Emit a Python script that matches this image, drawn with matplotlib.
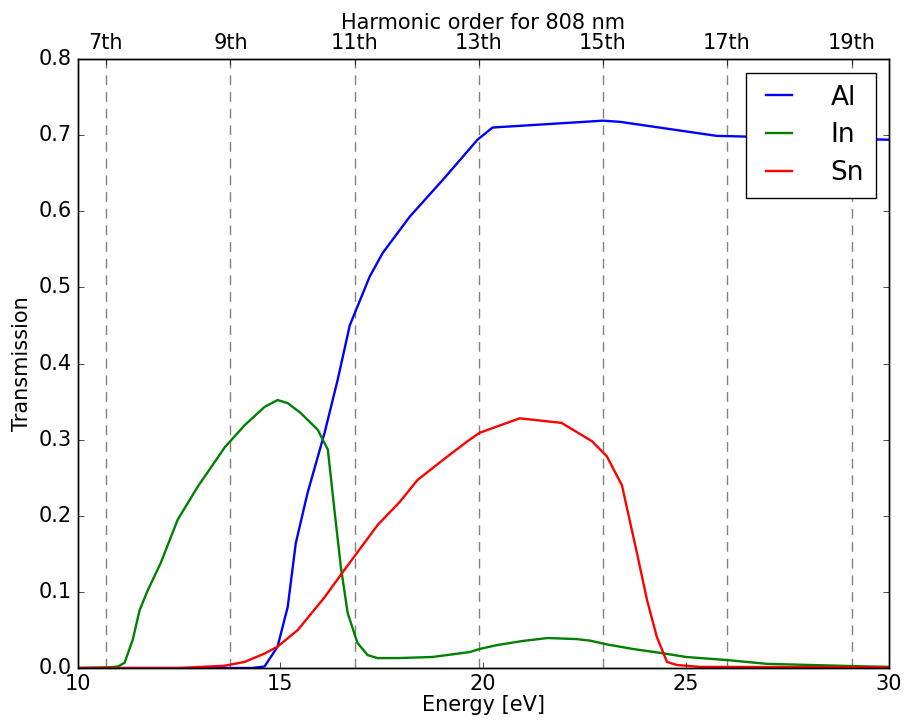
import numpy as np
import matplotlib
matplotlib.use('Agg')
import matplotlib.pyplot as plt

# transmission curves
al_E = [10.0, 14.3, 14.61, 14.93, 15.18, 15.38, 15.67, 16.09, 16.41, 16.71, 17.2, 17.52,
        18.19, 19.0, 19.86, 20.23, 22.95, 23.37, 25.76, 26.57, 28.0, 30.0]
al_T = [0.0, 0.0, 0.002, 0.028, 0.080, 0.164, 0.230, 0.309, 0.378, 0.450, 0.514, 0.545,
        0.593, 0.641, 0.694, 0.710, 0.719, 0.7175, 0.699, 0.698, 0.696, 0.694]

in_E = [10.0, 10.8, 11.0, 11.16, 11.36, 11.53, 11.73, 12.05, 12.47, 12.96, 13.63, 14.12,
        14.61, 14.93, 15.18, 15.5, 15.92, 16.17, 16.34, 16.49, 16.66, 16.9, 17.15, 17.4,
        17.94, 18.75, 19.67, 19.91, 20.33, 20.97, 21.59, 22.3, 22.63, 23.05, 23.69, 24.35,
        25.0, 26.0, 26.99, 29.04, 30.0]
in_T = [0.0, 0.001, 0.002, 0.007, 0.037, 0.076, 0.102, 0.138, 0.195, 0.238, 0.290, 0.319,
        0.343, 0.352, 0.348, 0.335, 0.313, 0.287, 0.204, 0.133, 0.072, 0.033, 0.017, 0.013,
        0.0131, 0.0145, 0.021, 0.025, 0.030, 0.0355, 0.0394, 0.038, 0.036, 0.031, 0.025, 0.020,
        0.0145, 0.0105, 0.0055, 0.0026, 0.0015]

sn_E = [10.0, 12.5, 13.63, 14.12, 14.61, 14.93, 15.43, 16.09, 16.58, 17.4, 17.94, 18.38,
        19.0, 19.59, 19.91, 20.9, 21.93, 22.68, 23.05, 23.42, 23.79, 24.04, 24.28, 24.53,
        24.77, 25.34, 30.0]
sn_T = [0.0, 0.0, 0.003, 0.008, 0.019, 0.028, 0.050, 0.093, 0.129, 0.188, 0.218, 0.247,
        0.273, 0.297, 0.309, 0.328, 0.322, 0.298, 0.278, 0.240, 0.151, 0.089, 0.041, 0.008,
        0.004, 0.0015, 0.001]

# harmonic positions (eV) as drawn on the top axis
harm_labels = ['7th', '9th', '11th', '13th', '15th', '17th', '19th']
harm_E = [10.70, 13.77, 16.83, 19.89, 22.95, 26.01, 29.08]

plt.style.use('classic')
plt.rcParams['font.family'] = 'DejaVu Sans'

fig = plt.figure(figsize=(9.07, 7.25), dpi=100, facecolor='white')
ax = fig.add_axes([0.0855, 0.0786, 0.8945, 0.8400])

for e in harm_E:
    ax.axvline(e, color='grey', ls='--', lw=1, dashes=(7, 5), zorder=1)

ax.plot(al_E, al_T, color='b', lw=1.7, label='Al')
ax.plot(in_E, in_T, color='g', lw=1.7, label='In')
ax.plot(sn_E, sn_T, color='r', lw=1.7, label='Sn')

ax.set_xlim(10, 30)
ax.set_ylim(0, 0.8)
ax.set_xlabel('Energy [eV]', fontsize=15, labelpad=1)
ax.set_ylabel('Transmission', fontsize=15)
ax.tick_params(labelsize=15)
ax.xaxis.set_ticks_position('bottom')

ax2 = ax.twiny()
ax2.set_xlim(10, 30)
ax2.set_xticks(harm_E)
ax2.set_xticklabels(harm_labels)
ax2.tick_params(labelsize=15)
ax2.set_xlabel('Harmonic order for 808 nm', fontsize=15, labelpad=3)

leg = ax.legend(loc='upper right', fontsize=19, handlelength=1.6, handletextpad=1.15,
                borderpad=0.45, labelspacing=0.45, borderaxespad=0,
                bbox_to_anchor=(0.984, 0.9775))
leg.get_frame().set_linewidth(1)

fig.savefig('out.png', dpi=100, facecolor='white')
